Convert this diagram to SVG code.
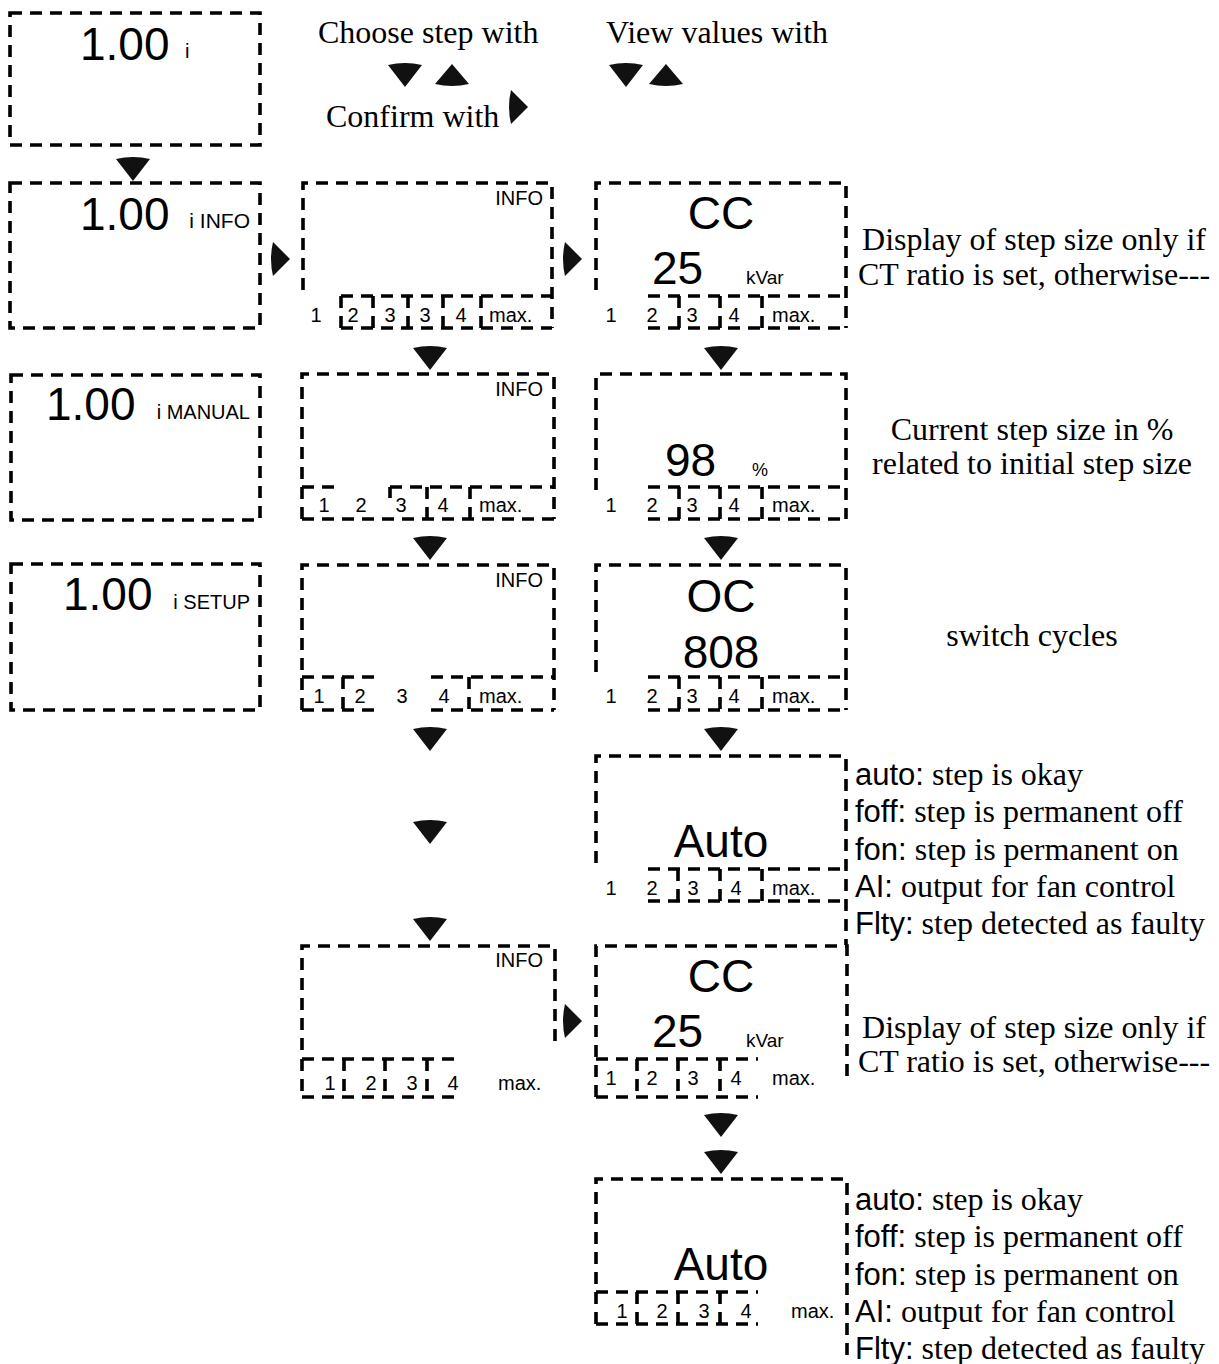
<svg xmlns="http://www.w3.org/2000/svg" xmlns:xlink="http://www.w3.org/1999/xlink" width="1219" height="1364" viewBox="0 0 1219 1364">
<defs>
<style>
.d{fill:none;stroke:#000;stroke-width:3.6;stroke-dasharray:12 8}
.big{font-family:"Liberation Sans",Arial,sans-serif;font-size:46px;fill:#000}
.sm{font-family:"Liberation Sans",Arial,sans-serif;font-size:20px;fill:#000}
.st{font-family:"Liberation Sans",Arial,sans-serif;font-size:20px;fill:#000;text-anchor:middle}
.ser{font-family:"Liberation Serif","Times New Roman",serif;font-size:32px;fill:#000}
.sa{font-family:"Liberation Sans",Arial,sans-serif;font-size:31px}
.ar{fill:#111}
</style>
<path id="dn" d="M-17,0 Q0,-4 17,0 L0,22 Z"/>
<path id="up" d="M-17,20 Q0,24 17,20 L0,0 Z"/>
<path id="rt" d="M0,-17 Q-4,0 0,17 L17,0 Z"/>
</defs>
<rect width="1219" height="1364" fill="#fff"/>

<g id="header">
<text class="ser" x="318" y="43">Choose step with</text>
<text class="ser" x="606" y="43">View values with</text>
<text class="ser" x="326" y="127">Confirm with</text>
<use xlink:href="#dn" class="ar" x="405" y="65"/>
<use xlink:href="#up" class="ar" x="452" y="64"/>
<use xlink:href="#rt" class="ar" x="511" y="107"/>
<use xlink:href="#dn" class="ar" x="626" y="65"/>
<use xlink:href="#up" class="ar" x="666" y="64"/>
</g>

<g id="c1r0">
<rect class="d" x="10" y="13" width="250" height="132"/>
<text class="big" x="80" y="60">1.00</text>
<text class="sm" x="185" y="58">i</text>
</g>
<g id="c1r1">
<rect class="d" x="10" y="183" width="250" height="145"/>
<text class="big" x="80" y="230">1.00</text>
<text class="sm" x="250" y="228" text-anchor="end" style="font-size:21px">i INFO</text>
</g>
<g id="c1r2">
<rect class="d" x="11" y="375" width="249" height="145"/>
<text class="big" x="46" y="420">1.00</text>
<text class="sm" x="250" y="419" text-anchor="end">i MANUAL</text>
</g>
<g id="c1r3">
<rect class="d" x="11" y="564" width="249" height="146"/>
<text class="big" x="63" y="610">1.00</text>
<text class="sm" x="250" y="609" text-anchor="end">i SETUP</text>
</g>

<g id="c2r1">
<path class="d" d="M303,290 V183 H552 V328 M341,296 H552 M341,328 H552 M341,296 V328 M373,296 V328 M408,296 V328 M443,296 V328 M481,296 V328"/>
<text class="sm" x="543" y="205" text-anchor="end">INFO</text>
<text class="st" x="316" y="322">1</text><text class="st" x="353" y="322">2</text><text class="st" x="390" y="322">3</text><text class="st" x="425" y="322">3</text><text class="st" x="461" y="322">4</text>
<text class="sm" x="489" y="322">max.</text>
</g>
<g id="c3r1">
<path class="d" d="M596,290 V183 H846 V328 M648,296 H846 M648,328 H846 M679,296 V328 M720,296 V328 M762,296 V328"/>
<text class="big" x="721" y="229" text-anchor="middle">CC</text>
<text class="big" x="652" y="284">25</text>
<text class="sm" x="746" y="284" style="font-size:19px">kVar</text>
<text class="st" x="611" y="322">1</text><text class="st" x="652" y="322">2</text><text class="st" x="692" y="322">3</text><text class="st" x="734" y="322">4</text>
<text class="sm" x="772" y="322">max.</text>
</g>
<g id="n1">
<text class="ser" x="1034" y="250" text-anchor="middle">Display of step size only if</text>
<text class="ser" x="1034" y="285" text-anchor="middle">CT ratio is set, otherwise---</text>
</g>

<g id="c2r2">
<path class="d" d="M302,519 V374 H554 V519 M302,519 H554 M302,487 H335 M390,487 H554 M390,487 V498 M427,487 V519 M470,487 V519"/>
<text class="sm" x="543" y="396" text-anchor="end">INFO</text>
<text class="st" x="324" y="512">1</text><text class="st" x="361" y="512">2</text><text class="st" x="401" y="512">3</text><text class="st" x="443" y="512">4</text>
<text class="sm" x="479" y="512">max.</text>
</g>
<g id="c3r2">
<path class="d" d="M596,490 V374 H846 V519 M648,487 H846 M648,519 H846 M679,487 V519 M720,487 V519 M762,487 V519"/>
<text class="big" x="665" y="476">98</text>
<text class="sm" x="752" y="476" style="font-size:18px">%</text>
<text class="st" x="611" y="512">1</text><text class="st" x="652" y="512">2</text><text class="st" x="692" y="512">3</text><text class="st" x="734" y="512">4</text>
<text class="sm" x="772" y="512">max.</text>
</g>
<g id="n2">
<text class="ser" x="1032" y="440" text-anchor="middle">Current step size in %</text>
<text class="ser" x="1032" y="474" text-anchor="middle">related to initial step size</text>
</g>

<g id="c2r3">
<path class="d" d="M302,710 V565 H554 V710 M302,677 H376 M431,677 H554 M302,710 H376 M431,710 H554 M343,677 V710 M469,677 V710"/>
<text class="sm" x="543" y="587" text-anchor="end">INFO</text>
<text class="st" x="319" y="703">1</text><text class="st" x="360" y="703">2</text><text class="st" x="402" y="703">3</text><text class="st" x="444" y="703">4</text>
<text class="sm" x="479" y="703">max.</text>
</g>
<g id="c3r3">
<path class="d" d="M596,672 V565 H846 V710 M648,677 H846 M648,710 H846 M679,677 V710 M720,677 V710 M762,677 V710"/>
<text class="big" x="721" y="612" text-anchor="middle">OC</text>
<text class="big" x="721" y="668" text-anchor="middle">808</text>
<text class="st" x="611" y="703">1</text><text class="st" x="652" y="703">2</text><text class="st" x="692" y="703">3</text><text class="st" x="734" y="703">4</text>
<text class="sm" x="772" y="703">max.</text>
</g>
<g id="n3">
<text class="ser" x="1032" y="646" text-anchor="middle">switch cycles</text>
</g>

<g id="c3r4">
<path class="d" d="M596,863 V756 H846 V945 M648,869 H846 M648,901 H846 M678,869 V901 M720,869 V901 M762,869 V901"/>
<text class="big" x="721" y="857" text-anchor="middle">Auto</text>
<text class="st" x="611" y="895">1</text><text class="st" x="652" y="895">2</text><text class="st" x="693" y="895">3</text><text class="st" x="736" y="895">4</text>
<text class="sm" x="772" y="895">max.</text>
</g>
<g id="n4">
<text class="ser" x="855" y="785"><tspan class="sa">auto:</tspan> step is okay</text>
<text class="ser" x="855" y="822"><tspan class="sa">foff:</tspan> step is permanent off</text>
<text class="ser" x="855" y="860"><tspan class="sa">fon:</tspan> step is permanent on</text>
<text class="ser" x="855" y="897"><tspan class="sa">AI:</tspan> output for fan control</text>
<text class="ser" x="855" y="934"><tspan class="sa">Flty:</tspan> step detected as faulty</text>
</g>

<g id="c2r5">
<path class="d" d="M302,1050 V946 H555 V1047 M302,1059 H455 M302,1097 H455 M302,1059 V1097 M344,1059 V1097 M385,1059 V1097 M427,1059 V1097"/>
<text class="sm" x="543" y="967" text-anchor="end">INFO</text>
<text class="st" x="330" y="1090">1</text><text class="st" x="371" y="1090">2</text><text class="st" x="412" y="1090">3</text><text class="st" x="453" y="1090">4</text>
<text class="sm" x="498" y="1090">max.</text>
</g>
<g id="c3r5">
<path class="d" d="M596,1097 V946 H847 V1080 M596,1059 H758 M596,1097 H758 M637,1059 V1097 M678,1059 V1097 M720,1059 V1097"/>
<text class="big" x="721" y="992" text-anchor="middle">CC</text>
<text class="big" x="652" y="1047">25</text>
<text class="sm" x="746" y="1047" style="font-size:19px">kVar</text>
<text class="st" x="611" y="1085">1</text><text class="st" x="652" y="1085">2</text><text class="st" x="693" y="1085">3</text><text class="st" x="736" y="1085">4</text>
<text class="sm" x="772" y="1085">max.</text>
</g>
<g id="n5">
<text class="ser" x="1034" y="1038" text-anchor="middle">Display of step size only if</text>
<text class="ser" x="1034" y="1072" text-anchor="middle">CT ratio is set, otherwise---</text>
</g>

<g id="c3r6">
<path class="d" d="M596,1324 V1179 H847 V1362 M596,1292 H758 M596,1324 H758 M637,1292 V1324 M678,1292 V1324 M720,1292 V1324"/>
<text class="big" x="721" y="1280" text-anchor="middle">Auto</text>
<text class="st" x="622" y="1318">1</text><text class="st" x="662" y="1318">2</text><text class="st" x="704" y="1318">3</text><text class="st" x="746" y="1318">4</text>
<text class="sm" x="791" y="1318">max.</text>
</g>
<g id="n6">
<text class="ser" x="855" y="1210"><tspan class="sa">auto:</tspan> step is okay</text>
<text class="ser" x="855" y="1247"><tspan class="sa">foff:</tspan> step is permanent off</text>
<text class="ser" x="855" y="1285"><tspan class="sa">fon:</tspan> step is permanent on</text>
<text class="ser" x="855" y="1322"><tspan class="sa">AI:</tspan> output for fan control</text>
<text class="ser" x="855" y="1359"><tspan class="sa">Flty:</tspan> step detected as faulty</text>
</g>

<g id="connectors" class="ar">
<use xlink:href="#dn" x="133" y="159"/>
<use xlink:href="#rt" x="273" y="259"/>
<use xlink:href="#rt" x="565" y="259"/>
<use xlink:href="#dn" x="430" y="348"/>
<use xlink:href="#dn" x="721" y="348"/>
<use xlink:href="#dn" x="430" y="538"/>
<use xlink:href="#dn" x="721" y="538"/>
<use xlink:href="#dn" x="430" y="729"/>
<use xlink:href="#dn" x="721" y="729"/>
<use xlink:href="#dn" x="430" y="822"/>
<use xlink:href="#dn" x="430" y="919"/>
<use xlink:href="#rt" x="565" y="1021"/>
<use xlink:href="#dn" x="721" y="1115"/>
<use xlink:href="#dn" x="721" y="1152"/>
</g>
</svg>
